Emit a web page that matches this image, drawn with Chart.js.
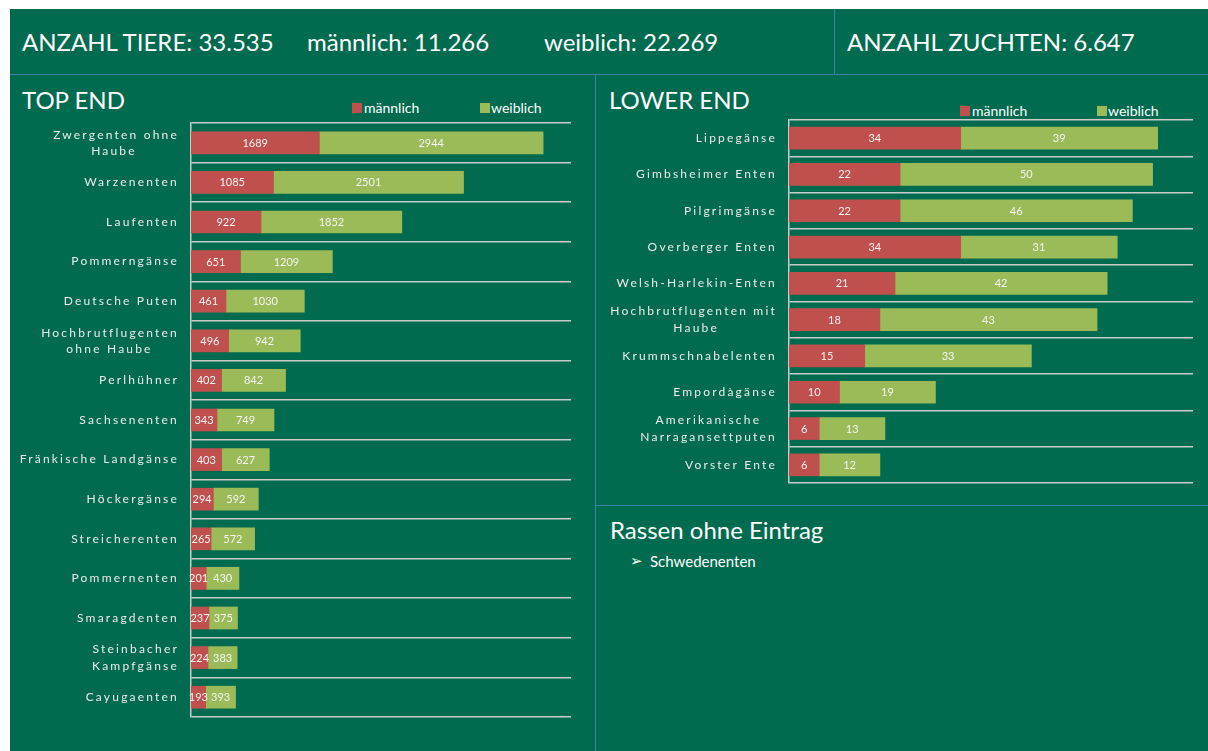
<!DOCTYPE html>
<html><head><meta charset="utf-8">
<script src="https://cdn.jsdelivr.net/npm/chart.js@4.4.1/dist/chart.umd.min.js"></script>
<style>
html,body{margin:0;padding:0;background:#fff;width:1208px;height:751px;overflow:hidden;font-family:Lato,"DejaVu Sans",sans-serif;}
#panel{position:absolute;left:10px;top:9px;width:1198px;height:742px;background:#006B4E;}
.t{position:absolute;color:#fff;white-space:nowrap;line-height:1;}
.h{font-size:24px;}
.ln{position:absolute;background:#3F80A8;}
.sq{position:absolute;width:10px;height:10px;}
.lg{position:absolute;color:#fff;font-size:14px;line-height:14px;white-space:nowrap;}
canvas{position:absolute;}
</style></head>
<body>
<div id="panel"></div>
<div class="ln" style="left:10px;top:74px;width:1198px;height:1px"></div>
<div class="ln" style="left:834px;top:9px;width:1px;height:65px"></div>
<div class="ln" style="left:595px;top:75px;width:1px;height:676px"></div>
<div class="ln" style="left:596px;top:505px;width:612px;height:1px"></div>

<div class="t h" style="left:22px;top:30px">ANZAHL TIERE: 33.535</div>
<div class="t h" style="left:307px;top:30px">männlich: 11.266</div>
<div class="t h" style="left:544px;top:30px">weiblich: 22.269</div>
<div class="t h" style="left:847px;top:30px">ANZAHL ZUCHTEN: 6.647</div>

<div class="t h" style="left:22px;top:88px">TOP END</div>
<div class="t h" style="left:609px;top:88px">LOWER END</div>
<div class="t h" style="left:610px;top:518px">Rassen ohne Eintrag</div>
<div class="t" style="left:630px;top:554px;font-size:15px;font-family:'DejaVu Sans';">&#10146;</div>
<div class="t" style="left:650px;top:554px;font-size:15px;">Schwedenenten</div>

<div class="sq" style="left:352px;top:103px;background:#C0504D"></div>
<div class="lg" style="left:364px;top:101px">männlich</div>
<div class="sq" style="left:480px;top:103px;background:#9BBB59"></div>
<div class="lg" style="left:491px;top:101px">weiblich</div>

<div class="sq" style="left:960px;top:106px;background:#C0504D"></div>
<div class="lg" style="left:972px;top:104px">männlich</div>
<div class="sq" style="left:1097px;top:106px;background:#9BBB59"></div>
<div class="lg" style="left:1108px;top:104px">weiblich</div>

<canvas id="c1" width="575" height="614" style="left:10px;top:113px"></canvas>
<canvas id="c2" width="610" height="383" style="left:597px;top:110px"></canvas>

<script>
// ---- data ----
const seriesNames = ["männlich", "weiblich"];

const topCategories = [["Zwergenten ohne","Haube"],"Warzenenten","Laufenten","Pommerngänse","Deutsche Puten",["Hochbrutflugenten","ohne Haube"],"Perlhühner","Sachsenenten","Fränkische Landgänse","Höckergänse","Streicherenten","Pommernenten","Smaragdenten",["Steinbacher","Kampfgänse"],"Cayugaenten"];
const topMale   = [1689,1085,922,651,461,496,402,343,403,294,265,201,237,224,193];
const topFemale = [2944,2501,1852,1209,1030,942,842,749,627,592,572,430,375,383,393];
const topAxisMax = 5000;

const lowCategories = ["Lippegänse","Gimbsheimer Enten","Pilgrimgänse","Overberger Enten","Welsh-Harlekin-Enten",["Hochbrutflugenten mit","Haube"],"Krummschnabelenten","Empordàgänse",["Amerikanische","Narragansettputen"],"Vorster Ente"];
const lowMale   = [34,22,22,34,21,18,15,10,6,6];
const lowFemale = [39,50,46,31,42,43,33,19,13,12];
const lowAxisMax = 80;

// ---- styles ----
const RED = '#C0504D', GREEN = '#9BBB59';
const GRID = '#C8CDCB';
const LABEL = '#ECECEC';
const LS = '2.2px';
const TICK_FONT = {family:'Lato', size:12, lineHeight:1.35};

const mctx = document.createElement('canvas').getContext('2d');
mctx.font = '12px Lato';
mctx.letterSpacing = LS;
function padLabel(l){
  if (!Array.isArray(l)) return l;
  const w = l.map(s => mctx.measureText(s).width);
  const maxW = Math.max(...w);
  const sp = mctx.measureText(' ').width;
  return l.map((s,i) => s + ' '.repeat(Math.max(0, Math.round((maxW - w[i]) / 2 / sp))));
}

const valuePlugin = {
  id: 'values',
  afterDatasetsDraw(chart){
    const ctx = chart.ctx;
    ctx.save();
    ctx.letterSpacing = '0px';
    ctx.font = '11px Lato';
    ctx.fillStyle = '#F4F4F4';
    ctx.textAlign = 'center';
    ctx.textBaseline = 'middle';
    chart.data.datasets.forEach((ds, di) => {
      chart.getDatasetMeta(di).data.forEach((bar, i) => {
        const p = bar.getProps(['x','y','base'], true);
        ctx.fillText(String(ds.data[i]), (p.x + p.base) / 2, p.y + 0.5);
      });
    });
    ctx.restore();
    ctx.letterSpacing = LS;
  },
  afterDraw(chart){ chart.ctx.letterSpacing = '0px'; }
};

function makeChart(id, cats, male, female, max, yWidth, padRight){
  const labels = cats.map(padLabel);
  return new Chart(document.getElementById(id), {
    type: 'bar',
    data: {
      labels: labels,
      datasets: [
        {label: seriesNames[0], data: male, backgroundColor: RED, barThickness: 22},
        {label: seriesNames[1], data: female, backgroundColor: GREEN, barThickness: 22}
      ]
    },
    options: {
      indexAxis: 'y',
      responsive: false,
      animation: false,
      devicePixelRatio: 1,
      layout: {padding: {top: 10, bottom: 10, left: 0, right: padRight}},
      plugins: {legend: {display: false}, tooltip: {enabled: false}},
      scales: {
        x: {stacked: true, min: 0, max: max, display: false},
        y: {
          stacked: true,
          afterFit(s){ s.width = yWidth; s.paddingTop = 0; s.paddingBottom = 0; },
          grid: {offset: true, color: GRID, lineWidth: 1.5, drawTicks: false},
          border: {display: true, color: GRID, width: 1.5},
          ticks: {z: 1, color: LABEL, padding: 12, font: TICK_FONT, autoSkip: false}
        }
      }
    },
    plugins: [valuePlugin]
  });
}

makeChart('c1', topCategories, topMale, topFemale, topAxisMax, 181, 14);
makeChart('c2', lowCategories, lowMale, lowFemale, lowAxisMax, 192, 14);
</script>
</body></html>
